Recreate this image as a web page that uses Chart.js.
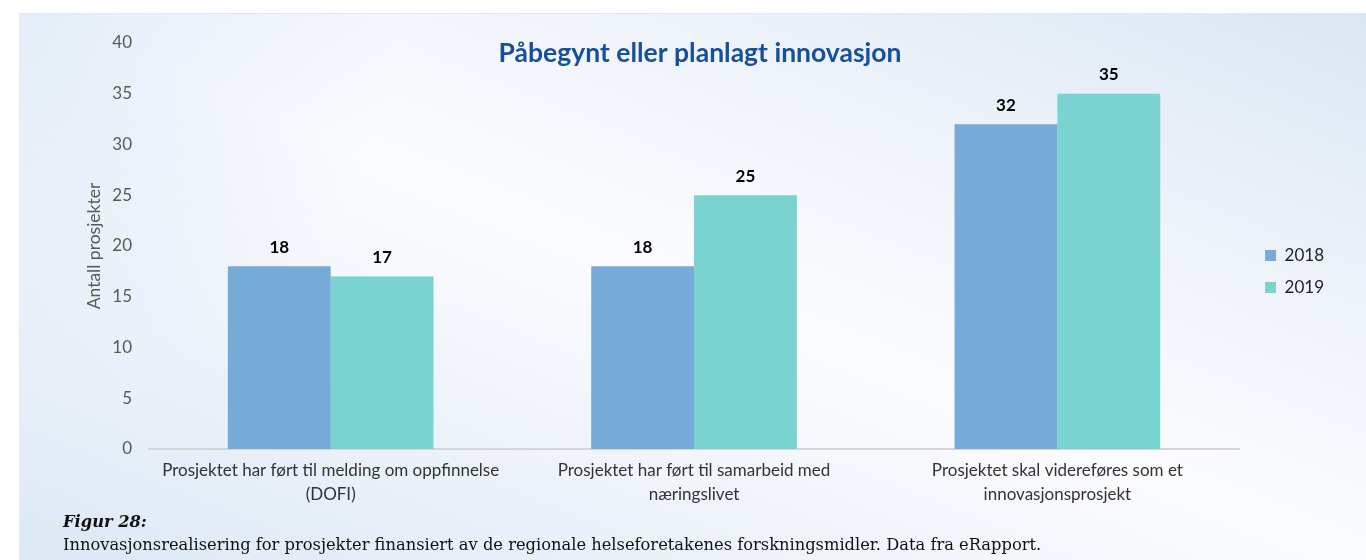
<!DOCTYPE html>
<html>
<head>
<meta charset="utf-8">
<script src="https://cdn.jsdelivr.net/npm/chart.js@4"></script>
<style>
  body { margin: 0; background: #fff; width: 1366px; height: 560px; overflow: hidden; position: relative; }
  #panel {
    position: absolute; left: 19px; top: 13px; width: 1347px; height: 547px;
    border-top: 1px solid #dfe8f3; border-left: 1px solid #e4ecf6;
    background:
      radial-gradient(circle at 0 0, rgba(222,233,246,0.8), rgba(222,233,246,0) 380px),
      linear-gradient(to top right, #dde8f5 0%, #eef3fa 28%, #fbfcfe 50%, #eef3fa 74%, #dbe6f3 100%);
  }
  #wrap { position: absolute; left: 0; top: 0; width: 1347px; height: 500px; }
  #caption { position: absolute; left: 43px; top: 496px; font-family: "DejaVu Serif", serif; font-size: 16.3px; color: #111; line-height: 23px; }
  #caption b { font-style: italic; }
</style>
</head>
<body>
<div id="panel">
  <div id="wrap"><canvas id="chart"></canvas></div>
  <div id="caption"><b>Figur 28:</b><br>Innovasjonsrealisering for prosjekter finansiert av de regionale helseforetakenes forskningsmidler. Data fra eRapport.</div>
</div>
<script>
const chartTitle = "Påbegynt eller planlagt innovasjon";
const categories = [
  ["Prosjektet har ført til melding om oppfinnelse", "(DOFI)"],
  ["Prosjektet har ført til samarbeid med", "næringslivet"],
  ["Prosjektet skal videreføres som et", "innovasjonsprosjekt"]
];
const values2018 = [18, 18, 32];
const values2019 = [17, 25, 35];
const yTicks = [0, 5, 10, 15, 20, 25, 30, 35, 40];

const fontFamily = "Lato, 'Open Sans', sans-serif";

// value labels above each bar
const barLabels = {
  id: "barLabels",
  afterDatasetsDraw(chart) {
    const ctx = chart.ctx;
    ctx.save();
    ctx.font = "bold 17px " + fontFamily;
    ctx.fillStyle = "#000";
    ctx.textAlign = "center";
    ctx.textBaseline = "middle";
    chart.data.datasets.forEach((ds, i) => {
      chart.getDatasetMeta(i).data.forEach((bar, j) => {
        ctx.fillText(ds.data[j], bar.x, bar.y - 19);
      });
    });
    ctx.restore();
  }
};

// title sits over the plot area, so draw it by hand
const overTitle = {
  id: "overTitle",
  afterDraw(chart) {
    const ctx = chart.ctx;
    const area = chart.chartArea;
    ctx.save();
    ctx.font = "bold 26.5px " + fontFamily;
    ctx.fillStyle = "#17509a";
    ctx.textAlign = "center";
    ctx.textBaseline = "middle";
    ctx.fillText(chartTitle, (area.left + area.right) / 2 + 6, 39);
    ctx.restore();
  }
};

// nudge the legend a bit right and up, like the original
const legendNudge = {
  id: "legendNudge",
  afterLayout(chart) {
    const lg = chart.legend;
    lg.left += 11; lg.right += 11;
    lg.top -= 7; lg.bottom -= 7;
  }
};

new Chart(document.getElementById("chart"), {
  type: "bar",
  data: {
    labels: categories,
    datasets: [
      { label: "2018", data: values2018, backgroundColor: "#76aad8", borderWidth: 0 },
      { label: "2019", data: values2019, backgroundColor: "#79d4d1", borderWidth: 0 }
    ]
  },
  options: {
    responsive: true,
    maintainAspectRatio: false,
    animation: false,
    layout: { padding: { left: 60, top: 29, right: 44, bottom: 0 } },
    datasets: { bar: { barPercentage: 1, categoryPercentage: 0.566 } },
    plugins: {
      title: { display: false },
      tooltip: { enabled: false },
      legend: {
        position: "right",
        labels: {
          boxWidth: 11, boxHeight: 11, padding: 15,
          color: "#222",
          font: { family: fontFamily, size: 17 }
        }
      }
    },
    scales: {
      x: {
        grid: { display: false, drawTicks: false },
        border: { display: true, color: "#d6d6d6", width: 2 },
        ticks: { color: "#333", padding: 10, maxRotation: 0, font: { family: fontFamily, size: 17, lineHeight: 1.4 } },
        afterFit(scale) { scale.height = 65; }
      },
      y: {
        min: 0, max: 40,
        afterBuildTicks(scale) { scale.ticks = yTicks.map(v => ({ value: v })); },
        grid: { display: false, drawTicks: false },
        border: { display: false },
        ticks: { color: "#595959", padding: 17, font: { family: fontFamily, size: 17 } },
        title: { display: true, text: "Antall prosjekter", color: "#595959", padding: 4, font: { family: fontFamily, size: 17.5 } },
        afterFit(scale) { scale.width = 69; }
      }
    }
  },
  plugins: [barLabels, overTitle, legendNudge]
});
</script>
</body>
</html>
